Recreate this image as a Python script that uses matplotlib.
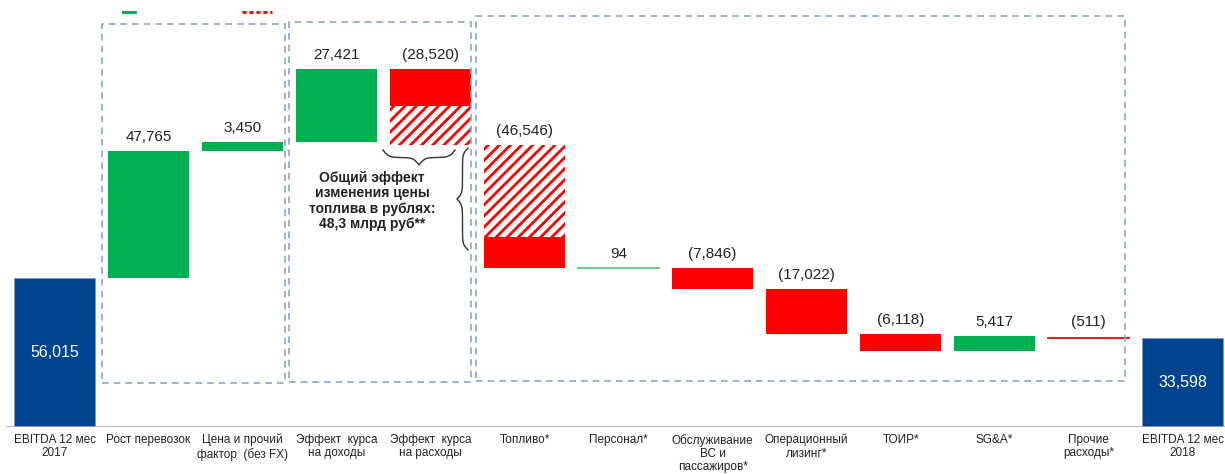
import numpy as np
import matplotlib
matplotlib.use("Agg")
import matplotlib.pyplot as plt
from matplotlib.patches import Rectangle
from matplotlib.lines import Line2D

# =====================================
# DATA
# =====================================

categories = [
    "EBITDA 12 мес\n2017",
    "Рост перевозок",
    "Цена и прочий\nфактор  (без FX)",
    "Эффект  курса\nна доходы",
    "Эффект  курса\nна расходы",
    "Топливо*",
    "Персонал*",
    "Обслуживание\nВС и\nпассажиров*",
    "Операционный\nлизинг*",
    "ТОИР*",
    "SG&A*",
    "Прочие\nрасходы*",
    "EBITDA 12 мес\n2018",
]

ebitda_2017 = 56015
ebitda_2018 = 33598
changes = [47765, 3450, 27421, -28520, -46546, 94, -7846, -17022, -6118, 5417, -511]

# part of the bar that is the rouble fuel price effect (hatched)
fuel_price_part = [0, 0, 0, 14600, 34700, 0, 0, 0, 0, 0, 0]

note_lines = "Общий эффект\nизменения цены\nтоплива в рублях:\n48,3 млрд руб**"

# =====================================
# STYLE
# =====================================

plt.rcParams["font.family"] = ["Liberation Sans", "DejaVu Sans"]
plt.rcParams["hatch.linewidth"] = 2.0

GREEN = "#00B050"
RED = "#FF0000"
BLUE = "#00438F"
BOX = "#8FA6C4"
TEXT = "#222222"

W, H = 1225, 474
fig = plt.figure(figsize=(W / 100, H / 100), dpi=100)
ax = fig.add_axes([0, 47 / H, 1, 427 / H])

x = np.arange(len(categories))
bw = 0.86

# =====================================
# WATERFALL
# =====================================

ax.bar(x[0], ebitda_2017, width=bw, color=BLUE, edgecolor="#7A9CC6", linewidth=0.5)
ax.bar(x[-1], ebitda_2018, width=bw, color=BLUE, edgecolor="#7A9CC6", linewidth=0.5)
ax.text(x[0], ebitda_2017 / 2, f"{ebitda_2017:,}", color="white",
        ha="center", va="center", fontsize=11.5)
ax.text(x[-1], ebitda_2018 / 2, f"{ebitda_2018:,}", color="white",
        ha="center", va="center", fontsize=11.5)

level = ebitda_2017
for i, (d, hp) in enumerate(zip(changes, fuel_price_part)):
    xi = x[i + 1]
    top = max(level, level + d)
    low = min(level, level + d)
    if abs(d) < 1000:
        col = "#5CC97F" if d > 0 else RED
        ax.plot([xi - bw / 2, xi + bw / 2], [level + d, level + d],
                color=col, lw=1.3)
    elif hp == 0:
        ax.bar(xi, top - low, bottom=low, width=bw,
               color=GREEN if d > 0 else RED, linewidth=0)
    else:
        solid = abs(d) - hp
        if i == 3:
            # solid on top, hatched below
            ax.bar(xi, solid, bottom=top - solid, width=bw, color=RED, linewidth=0)
            ax.bar(xi, hp, bottom=low, width=bw, facecolor="white",
                   edgecolor=RED, hatch="///", linewidth=0)
        else:
            # hatched on top, solid below
            ax.bar(xi, hp, bottom=top - hp, width=bw, facecolor="white",
                   edgecolor=RED, hatch="///", linewidth=0)
            ax.bar(xi, solid, bottom=low, width=bw, color=RED, linewidth=0)
    label = f"{d:,}" if d > 0 else f"({-d:,})"
    ax.annotate(label, (xi, top), xytext=(0, 5), textcoords="offset points",
                ha="center", va="bottom", fontsize=11, color=TEXT)
    level += d

# =====================================
# AXES
# =====================================

ax.set_xlim(-0.58, 12.45)
ax.set_ylim(0, 160500)
for s in ax.spines.values():
    s.set_visible(False)
ax.set_yticks([])
ax.set_xticks(x, categories, fontsize=8.5, color=TEXT, linespacing=1.12)
ax.tick_params(axis="x", length=0, pad=5)
ax.axhline(0, xmin=7 / W, xmax=1, color="#A6A6A6", lw=1.2)

# =====================================
# DASHED GROUP BOXES (figure pixels)
# =====================================

def px_box(x0, y0, x1, y1):
    r = Rectangle((x0 / W, 1 - y1 / H), (x1 - x0) / W, (y1 - y0) / H,
                  transform=fig.transFigure, fill=False, edgecolor=BOX,
                  lw=1.2, ls=(0, (4, 3)))
    fig.add_artist(r)

px_box(102, 24, 285, 383)
px_box(289, 22, 471, 382)
px_box(476, 16, 1125, 381)

# =====================================
# BRACES AND NOTE
# =====================================

def brace_curve(n=200, beta=0.35, length=100.0):
    half = np.linspace(0, length / 2, n)
    yh = 1 / (1 + np.exp(-beta * (half - half[0]))) + 1 / (1 + np.exp(-beta * (half - half[-1])))
    t = np.concatenate([half, length - half[::-1]])
    y = np.concatenate([yh, yh[::-1]]) - 0.5
    return t, y

# horizontal brace under FX expense bar
t, yb = brace_curve(length=72)
fig.add_artist(Line2D((383 + t) / W, 1 - (150 + yb * 15) / H,
                      transform=fig.transFigure, color="#333333", lw=1))
# vertical brace pointing left
t, yb = brace_curve(length=102)
fig.add_artist(Line2D((468 - yb * 11) / W, 1 - (148 + t) / H,
                      transform=fig.transFigure, color="#333333", lw=1))

fig.text(372 / W, 1 - 201 / H, note_lines, ha="center", va="center",
         fontsize=10, fontweight="bold", color=TEXT, linespacing=1.15)

# cut-off legend marks at top
fig.add_artist(Line2D([123 / W, 135 / W], [1 - 12 / H, 1 - 12 / H],
                      transform=fig.transFigure, color="#00A050", lw=2))
fig.add_artist(Line2D([242 / W, 272 / W], [1 - 12 / H, 1 - 12 / H],
                      transform=fig.transFigure, color=RED, lw=2, ls=(0, (1.5, 1))))

fig.savefig("out.png", dpi=100)
